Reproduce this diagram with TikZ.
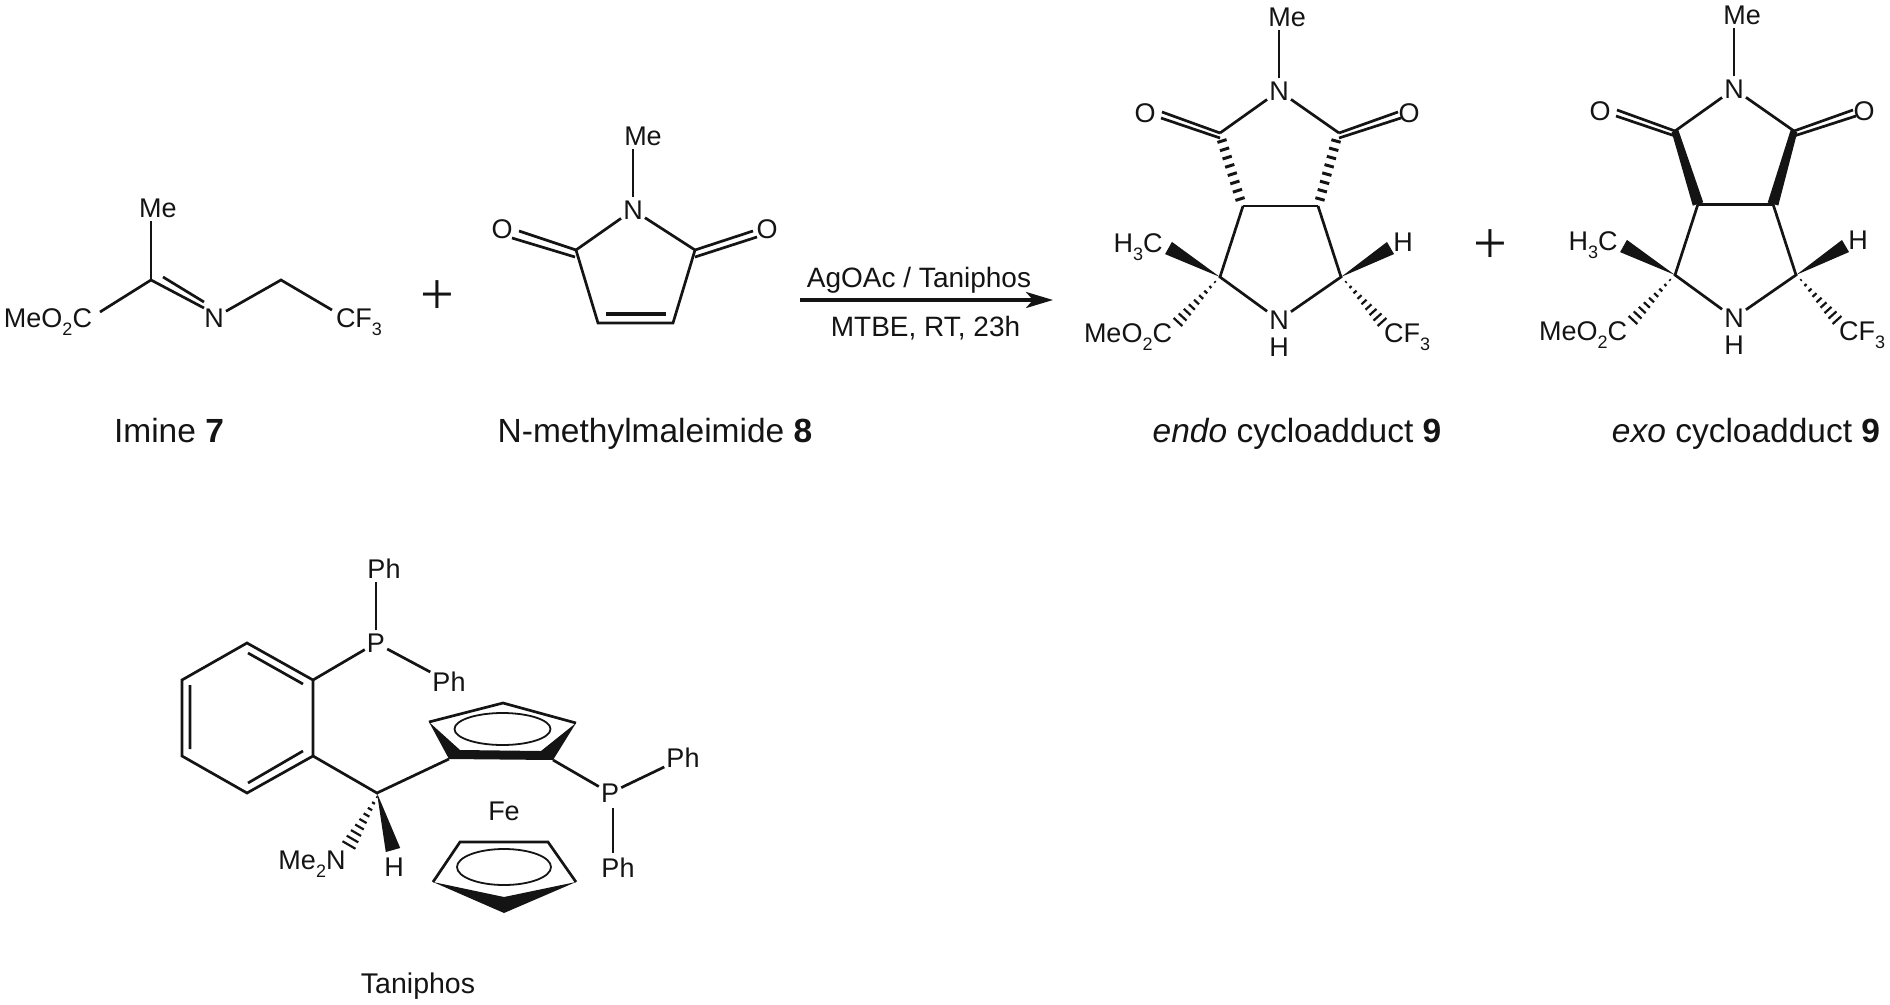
\documentclass[tikz,border=0pt]{standalone}
\usepackage{fontspec}
\setmainfont{Liberation Sans}
\newfontfamily\plusfont{Liberation Serif}
\usetikzlibrary{calc,arrows.meta}
\newcommand{\dn}[1]{\raisebox{-0.28em}{\fontsize{18}{18}\selectfont #1}}
\tikzset{
  bondline/.style={line width=2.7pt,line join=miter,black!92},
  atom/.style={font=\fontsize{27}{27}\selectfont,inner xsep=2pt,inner ysep=3pt,text height=19pt,text depth=0pt,text=black!92},
  capt/.style={font=\fontsize{33.5}{33.5}\selectfont,anchor=base,inner sep=0pt,text=black!92},
  condn/.style={font=\fontsize{28}{28}\selectfont,anchor=base,inner sep=0pt,text=black!92},
  plussign/.style={font=\plusfont\fontsize{60}{60}\selectfont,inner sep=0pt,text=black!92},
}
% hashed bond of #3+1 strokes from #1 to #2, half-widths #4 to #5, stroke thickness #6
\newcommand{\hashbond}[6]{%
  \coordinate (hx) at ($(#1)!2!(#2)$);
  \foreach \i in {0,...,#3}{%
    \pgfmathsetmacro{\hT}{\i/#3}%
    \pgfmathsetmacro{\hW}{#4+(#5-#4)*\hT}%
    \draw[line width=#6pt,black!92] ($(#1)!\hT!(#2)!\hW pt!90:(hx)$) -- ($(#1)!\hT!(#2)!\hW pt!-90:(hx)$);
  }}
% solid wedge with its tip at #1 and its wide end at #2, half-width #3
\newcommand{\wedgebond}[3]{%
  \fill[black!92] (#1) -- ($(#2)!#3pt!90:(#1)$) -- ($(#2)!#3pt!-90:(#1)$) -- cycle;}
% solid tapered bar from #1 (half-width #3) to #2 (half-width #4)
\newcommand{\boldbond}[4]{%
  \fill[black!92] ($(#1)!#3pt!90:(#2)$) -- ($(#1)!#3pt!-90:(#2)$) -- ($(#2)!#4pt!90:(#1)$) -- ($(#2)!#4pt!-90:(#1)$) -- cycle;}
\newcommand{\hashring}{%
  \coordinate (ha) at (1222,141); \coordinate (hb) at (1240,199);
  \coordinate (hc) at (1336,141); \coordinate (hd) at (1320,199);
  \hashbond{ha}{hb}{7}{4.8}{4.8}{3}\hashbond{hc}{hd}{7}{4.8}{4.8}{3}
  \draw[bondline] (ml) -- (mr);}
\newcommand{\boldring}{%
  \boldbond{cl}{ml}{3.5}{5.5}\boldbond{cr}{mr}{3.5}{5.5}
  \draw[bondline,line width=3pt] (ml) -- (mr);}
\newcommand{\adduct}[1]{%
  \coordinate (cl) at (1220,133); \coordinate (cr) at (1339,133);
  \coordinate (ml) at (1243,206); \coordinate (mr) at (1318,206);
  \coordinate (bl) at (1220,277); \coordinate (br) at (1341,277);
  \node[atom] (n1) at (1279,91) {N};
  \node[atom] (me) at (1287,17) {Me};
  \node[atom] (ol) at (1145,113) {O};
  \node[atom] (or) at (1409,113) {O};
  \node[atom] (nh) at (1279,320) {N};
  \node[atom,inner ysep=0pt] (hn) at (1279,347) {H};
  \node[atom] (hmeth) at (1138,243) {H\dn{3}C};
  \node[atom] (hh) at (1403,242) {H};
  \node[atom] (est) at (1128,333) {MeO\dn{2}C};
  \node[atom] (cf) at (1407,333) {CF\dn{3}};
  \coordinate (ol1) at (1162,112); \coordinate (ol2) at (1161,118);
  \coordinate (or1) at (1398,112); \coordinate (or2) at (1401,118);
  \coordinate (cl2) at (1220,138); \coordinate (cr2) at (1339,138);
  \coordinate (wa) at (1168.5,248); \coordinate (wb) at (1390.5,248);
  \coordinate (ea) at (1215,282); \coordinate (eb) at (1178,322);
  \coordinate (fa) at (1346,282); \coordinate (fb) at (1382,322);
  \draw[bondline] (n1.north) -- (n1.north |- me.south);
  \draw[bondline] (cl) -- (n1) -- (cr);
  \draw[bondline] (cl) -- (ol1) (cl2) -- (ol2) (cr) -- (or1) (cr2) -- (or2);
  #1
  \draw[bondline] (ml) -- (bl) -- (nh) -- (br) -- (mr);
  \wedgebond{bl}{wa}{7}\wedgebond{br}{wb}{7}
  \hashbond{ea}{eb}{8}{0.8}{6}{2.2}\hashbond{fa}{fb}{8}{0.8}{6}{2.2}
}
\begin{document}
\begin{tikzpicture}[x=1pt,y=-1pt]
\useasboundingbox (0,0) rectangle (1890,1004);
% imine 7
\coordinate (ic) at (151,280);
\coordinate (ic2) at (281,280);
\coordinate (ime) at (100,312);
\coordinate (icb1) at (204,308);
\coordinate (icb2a) at (163,277);
\coordinate (icb2b) at (204,302);
\coordinate (icf) at (332,310);
\node[atom] (imeL) at (158,208) {Me};
\node[atom] (iest) at (48,318) {MeO\dn{2}C};
\node[atom] (inn) at (214,318) {N};
\node[atom] (icfL) at (359,318) {CF\dn{3}};
\draw[bondline] (ic) -- (ic |- imeL.south);
\draw[bondline] (ime) -- (ic) -- (icb1) (icb2a) -- (icb2b);
\draw[bondline] (inn) -- (ic2) -- (icf);
\node[plussign] (plus1) at (437,298) {+};
% N-methylmaleimide 8
\coordinate (mcl) at (576,250); \coordinate (mcr) at (695,250);
\coordinate (mbl) at (598,323); \coordinate (mbr) at (673,323);
\coordinate (mdl) at (606,314); \coordinate (mdr) at (666,314);
\coordinate (mol1) at (519,231); \coordinate (mol2) at (512,238);
\coordinate (mor1) at (753,231); \coordinate (mor2) at (757,237);
\coordinate (mcl2) at (575,257); \coordinate (mcr2) at (695,257);
\node[atom] (mn) at (633,210) {N};
\node[atom] (mme) at (643,136) {Me};
\node[atom] (mol) at (502,229) {O};
\node[atom] (mor) at (767,229) {O};
\draw[bondline] (mn.north) -- (mn.north |- mme.south);
\draw[bondline] (mn) -- (mcl) -- (mbl) -- (mbr) -- (mcr) -- (mn);
\draw[bondline,line width=3.2pt] (mdl) -- (mdr);
\draw[bondline] (mcl) -- (mol1) (mcl2) -- (mol2) (mcr) -- (mor1) (mcr2) -- (mor2);
% arrow and conditions
\coordinate (as) at (800,300); \coordinate (ae) at (1053,300);
\draw[line width=3.6pt,black!92,-{Stealth[length=27pt,width=16pt,inset=7pt]}] (as) -- (ae);
\node[condn] (cond1) at (919,287) {AgOAc / Taniphos};
\node[condn] (cond2) at (925.5,336) {MTBE, RT, 23h};
% endo and exo products
\begin{scope}[name prefix=en-]
\adduct{\hashring}
\end{scope}
\node[plussign] (plus2) at (1490,247) {+};
\begin{scope}[shift={(455,-2)},name prefix=ex-]
\adduct{\boldring}
\end{scope}
% captions
\node[capt] (c7) at (169,442) {Imine \textbf{7}};
\node[capt] (c8) at (655,442) {N-methylmaleimide \textbf{8}};
\node[capt] (c9a) at (1297,442) {\textit{endo} cycloadduct \textbf{9}};
\node[capt] (c9b) at (1746,442) {\textit{exo} cycloadduct \textbf{9}};
% Taniphos
\coordinate (b1) at (247,643); \coordinate (b2) at (313,680); \coordinate (b3) at (313,756);
\coordinate (b4) at (247,793); \coordinate (b5) at (182,756); \coordinate (b6) at (182,680);
\coordinate (d1a) at (248,653); \coordinate (d1b) at (303,684);
\coordinate (d2a) at (190,685); \coordinate (d2b) at (190,749);
\coordinate (d3a) at (248,783); \coordinate (d3b) at (303,751);
\coordinate (ch) at (377,793);
\coordinate (pa) at (449,759); \coordinate (pb) at (553,760);
\coordinate (pc) at (576,723); \coordinate (pd) at (503,703); \coordinate (pe) at (429,722);
\coordinate (pf) at (460,750); \coordinate (pg) at (541,751);
\coordinate (qa) at (460,842); \coordinate (qb) at (548,842); \coordinate (qc) at (576,882);
\coordinate (qd) at (504,913); \coordinate (qe) at (433,882); \coordinate (qf) at (504,897);
\coordinate (wh) at (393,850); \coordinate (hs) at (377,797); \coordinate (he) at (349,845);
\coordinate (p2s) at (613,808); \coordinate (ph4n) at (613,853);
\node[atom] (p1) at (376,643) {P};
\node[atom] (ph1) at (384,569) {Ph};
\node[atom] (ph2) at (449,682) {Ph};
\node[atom] (p2) at (610,793) {P};
\node[atom] (ph3) at (683,758) {Ph};
\node[atom] (ph4) at (618,868) {Ph};
\node[atom] (fe) at (504,811) {Fe};
\node[atom] (tnh) at (394,867) {H};
\node[atom] (nme) at (312,860) {Me\dn{2}N};
\draw[bondline] (b1) -- (b2) -- (b3) -- (b4) -- (b5) -- (b6) -- cycle;
\draw[bondline] (d1a) -- (d1b) (d2a) -- (d2b) (d3a) -- (d3b);
\draw[bondline] (b2) -- (p1);
\draw[bondline] (p1.north) -- (p1.north |- ph1.south);
\draw[bondline] (p1) -- (ph2);
\draw[bondline] (b3) -- (ch) -- (pa);
\draw[bondline] (pb) -- (p2);
\draw[bondline] (p2) -- (ph3);
\draw[bondline] (p2s) -- (ph4n);
\draw[bondline] (pe) -- (pd) -- (pc);
\fill[black!92] (pe) -- (pa) -- (pb) -- (pc) -- (pg) -- (pf) -- cycle;
\draw[bondline,line width=1.8pt] (502.5,729) ellipse [x radius=48,y radius=16];
\draw[bondline] (qe) -- (qa) -- (qb) -- (qc);
\fill[black!92] (qe) -- (qd) -- (qc) -- (qf) -- cycle;
\draw[bondline,line width=1.8pt] (504,867) ellipse [x radius=47,y radius=18];
\wedgebond{ch}{wh}{7.5}
\hashbond{hs}{he}{8}{0.8}{7.5}{2.2}
\node[font=\fontsize{28.5}{28.5}\selectfont,anchor=base,inner sep=0pt,text=black!92] (tn) at (418,993) {Taniphos};
\end{tikzpicture}
\end{document}
